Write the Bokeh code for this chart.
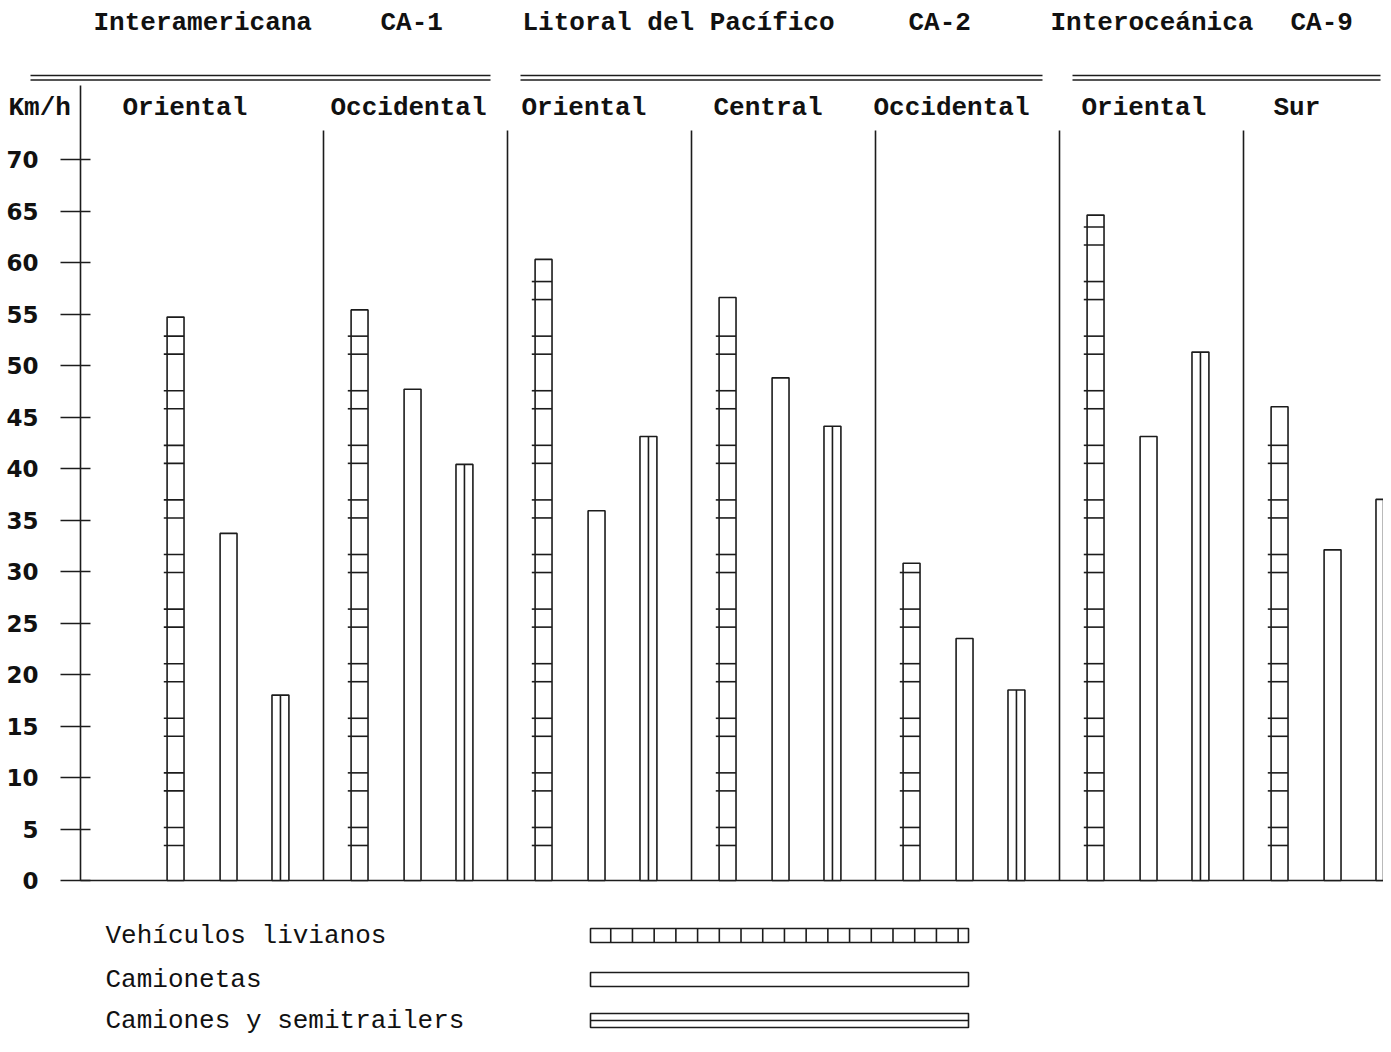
import numpy as np
from bokeh.plotting import figure
from bokeh.models import Range1d, FixedTicker
from bokeh.core.properties import value
from bokeh.embed import file_html
from bokeh.resources import INLINE

# ---------------- data ----------------
roads = ["Interamericana", "Litoral del Pacífico", "Interoceánica"]
road_codes = ["CA-1", "CA-2", "CA-9"]
sections = ["Oriental", "Occidental", "Oriental", "Central", "Occidental", "Oriental", "Sur"]
section_road = [0, 0, 1, 1, 1, 2, 2]
vehicle_types = ["Vehículos livianos", "Camionetas", "Camiones y semitrailers"]
livianos = [54.7, 55.4, 60.3, 56.6, 30.8, 64.6, 46.0]
camionetas = [33.7, 47.7, 35.9, 48.8, 23.5, 43.1, 32.1]
camiones = [18.0, 40.4, 43.1, 44.1, 18.5, 51.3, 37.0]
y_ticks = [0, 5, 10, 15, 20, 25, 30, 35, 40, 45, 50, 55, 60, 65, 70]
y_unit = "Km/h"

# ---------------- layout helpers (picture pixels -> data units) ----------------
PX_X, X0 = 184.0, 139.0      # pixels per section, x of section 0 start
PX_Y, Y0 = 10.3, 880.0       # pixels per km/h, y of 0 km/h
W_FIG, H_FIG = 1383, 1036


def hx(px):
    return (px - X0) / PX_X


def vy(py):
    return (Y0 - py) / PX_Y


INK = "#1c1c1c"
LW = 1.6
FONT = "Liberation Mono"

p = figure(width=W_FIG, height=H_FIG, output_backend="svg", toolbar_location=None,
           x_range=Range1d(hx(0), hx(W_FIG)), y_range=Range1d(vy(H_FIG), vy(0)),
           min_border_left=0, min_border_right=0, min_border_top=0, min_border_bottom=0)
p.outline_line_color = None
p.grid.visible = False
p.xaxis.visible = False
p.background_fill_color = "white"

ax = p.yaxis[0]
ax.fixed_location = hx(80)
ax.ticker = FixedTicker(ticks=y_ticks)
ax.axis_line_color = None
ax.major_tick_out = 20
ax.major_tick_in = 10
ax.major_tick_line_width = LW
ax.major_tick_line_color = INK
ax.minor_tick_line_color = None
ax.major_label_standoff = 22
ax.major_label_text_font = "DejaVu Sans"
ax.major_label_text_font_style = "bold"
ax.major_label_text_font_size = "23px"
ax.major_label_text_color = "#111111"

# axis line and baseline
p.segment(x0=[hx(80)], y0=[0], x1=[hx(80)], y1=[vy(85)], line_color=INK, line_width=LW)
p.segment(x0=[hx(80)], y0=[0], x1=[hx(W_FIG)], y1=[0], line_color=INK, line_width=LW)

# section dividers
idx = np.arange(len(sections))
p.segment(x0=idx[1:], y0=0, x1=idx[1:], y1=vy(130), line_color=INK, line_width=LW)

# bars
offsets = [0.196, 0.484, 0.766]
W = 0.092
xl = idx + offsets[0]
xc = idx + offsets[1]
xt = idx + offsets[2]

p.vbar(x=xl, width=W, bottom=0, top=livianos, fill_color="white", line_color=INK, line_width=LW)
p.vbar(x=xc, width=W, bottom=0, top=camionetas, fill_color="white", line_color=INK, line_width=LW)
p.vbar(x=xt, width=W, bottom=0, top=camiones, fill_color="white", line_color=INK, line_width=LW)
p.segment(x0=xt, y0=0, x1=xt, y1=camiones, line_color=INK, line_width=LW)

# ladder rungs of the "livianos" bars (hatching)
rx0, rx1, ry = [], [], []
for x, v in zip(xl, livianos):
    b = 3.4
    while b < v - 0.6:
        for r in (b, b + 1.75):
            if r < v - 0.6:
                rx0.append(x - W / 2 - 0.018)
                rx1.append(x + W / 2)
                ry.append(r)
        b += 5.3
p.segment(x0=rx0, y0=ry, x1=rx1, y1=ry, line_color=INK, line_width=LW)

# ---------------- headers ----------------
txt = dict(text_font=value(FONT), text_font_style="bold", text_font_size="26px",
           text_baseline="middle", text_align="left", text_color="#111111")
p.text(x=[hx(93), hx(522), hx(1050)], y=[vy(22)] * 3, text=roads, **txt)
p.text(x=[hx(380), hx(908), hx(1290)], y=[vy(22)] * 3, text=road_codes, **txt)
sec_px = [122, 330, 521, 713, 873, 1081, 1273]
p.text(x=[hx(v) for v in sec_px], y=[vy(107)] * len(sections), text=sections, **txt)
p.text(x=[hx(8)], y=[vy(107)], text=[y_unit], **txt)

lines_x = [(30, 490), (520, 1042), (1072, 1380)]
sx0, sx1, sy = [], [], []
for a, b in lines_x:
    for yy in (75, 79.5):
        sx0.append(hx(a))
        sx1.append(hx(b))
        sy.append(vy(yy))
p.segment(x0=sx0, y0=sy, x1=sx1, y1=sy, line_color=INK, line_width=1.3)

# ---------------- legend ----------------
rows_text = [935, 979, 1020]
p.text(x=[hx(105)] * 3, y=[vy(v) for v in rows_text], text=vehicle_types,
       **dict(txt, text_font_style="normal"))
box_top = [928, 972, 1013]
box_bot = [942, 986, 1027]
p.quad(left=hx(590), right=hx(968), top=[vy(v) for v in box_top], bottom=[vy(v) for v in box_bot],
       fill_color="white", line_color=INK, line_width=LW)
lx = np.arange(hx(590) + 0.11, hx(968) - 0.02, 0.118)
p.segment(x0=lx, y0=vy(box_top[0]), x1=lx, y1=vy(box_bot[0]), line_color=INK, line_width=LW)
mid = (box_top[2] + box_bot[2]) / 2
p.segment(x0=[hx(590)], y0=[vy(mid)], x1=[hx(968)], y1=[vy(mid)], line_color=INK, line_width=LW)

open("out.html", "w").write(file_html(p, INLINE))
